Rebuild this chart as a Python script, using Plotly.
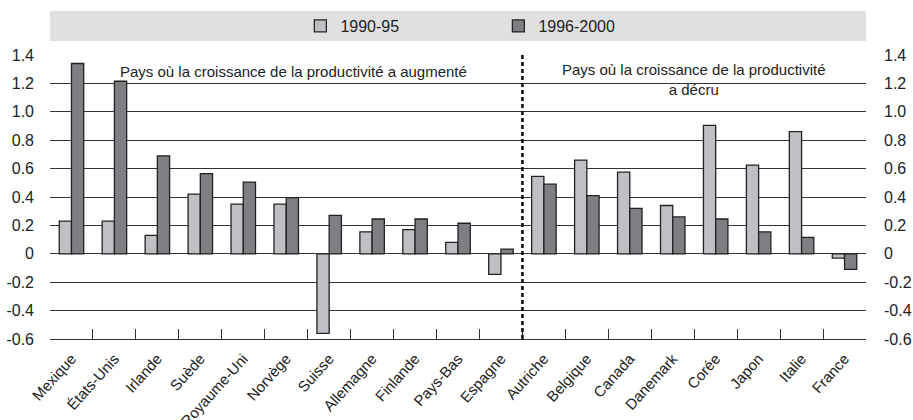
import plotly.graph_objects as go

categories = ["Mexique", "États-Unis", "Irlande", "Suède", "Royaume-Uni", "Norvège", "Suisse",
              "Allemagne", "Finlande", "Pays-Bas", "Espagne", "Autriche", "Belgique", "Canada",
              "Danemark", "Corée", "Japon", "Italie", "France"]
v1990_95 = [0.23, 0.23, 0.13, 0.42, 0.35, 0.35, -0.56, 0.155, 0.17, 0.08, -0.145,
            0.545, 0.66, 0.575, 0.34, 0.905, 0.625, 0.86, -0.03]
v1996_2000 = [1.34, 1.215, 0.69, 0.565, 0.505, 0.395, 0.27, 0.245, 0.245, 0.215, 0.033,
              0.49, 0.41, 0.32, 0.26, 0.245, 0.155, 0.115, -0.11]
tick_vals = [-0.6, -0.4, -0.2, 0, 0.2, 0.4, 0.6, 0.8, 1.0, 1.2, 1.4]
tick_text = ["-0.6", "-0.4", "-0.2", "0", "0.2", "0.4", "0.6", "0.8", "1.0", "1.2", "1.4"]

FONT = "Liberation Sans, Arial, sans-serif"
fig = go.Figure()
fig.add_trace(go.Bar(name="1990-95", x=categories, y=v1990_95,
                     marker=dict(color="#bfc0c4", line=dict(color="#222", width=1.3))))
fig.add_trace(go.Bar(name="1996-2000", x=categories, y=v1996_2000,
                     marker=dict(color="#7e7f83", line=dict(color="#222", width=1.3))))
# invisible trace for right axis
fig.add_trace(go.Scatter(x=categories, y=v1996_2000, yaxis="y2", mode="markers",
                         marker=dict(opacity=0), showlegend=False, hoverinfo="skip"))

sep = categories.index("Autriche") - 0.5
fig.add_shape(type="rect", xref="paper", yref="paper", x0=0, x1=1, y0=1.049, y1=1.155,
              fillcolor="#e0e0e0", line=dict(width=0), layer="below")
fig.add_shape(type="line", xref="x", yref="y", x0=sep, x1=sep, y0=-0.6, y1=1.4,
              line=dict(color="#111", width=2.6, dash="4px,3px"))

fig.add_annotation(x=1.08, y=1.287, xref="x", yref="y", xanchor="left",
                   text="Pays où la croissance de la productivité a augmenté",
                   showarrow=False, font=dict(size=15, color="#222", family=FONT))
fig.add_annotation(x=14.48, y=1.231, xref="x", yref="y", xanchor="center",
                   text="Pays où la croissance de la productivité<br>a décru",
                   showarrow=False, font=dict(size=15, color="#222", family=FONT))

fig.update_layout(
    width=913, height=420,
    margin=dict(l=50, r=47, t=55, b=81, autoexpand=False),
    paper_bgcolor="white", plot_bgcolor="white",
    barmode="group", bargap=0.43, bargroupgap=0,
    font=dict(family=FONT, size=16, color="#222"),
    showlegend=True,
    legend=dict(orientation="h", xref="container", yref="container",
                x=0.329, y=0.938, xanchor="left", yanchor="middle",
                bgcolor="rgba(0,0,0,0)", entrywidth=153, entrywidthmode="pixels",
                font=dict(size=16, family=FONT, color="#222")),
    xaxis=dict(tickangle=-48, tickson="boundaries", ticks="inside", ticklen=10,
               tickcolor="#333", showline=True, linecolor="#333", linewidth=1.3,
               showgrid=False, automargin=False, tickfont=dict(size=15, family=FONT),
               ticklabelstandoff=4, range=[-0.5, 18.5]),
    yaxis=dict(range=[-0.6, 1.4], tickvals=tick_vals, ticktext=tick_text,
               showgrid=True, gridcolor="#333", gridwidth=1, zeroline=False,
               automargin=False, ticks="", ticklabelstandoff=15,
               tickfont=dict(size=16, family=FONT)),
    yaxis2=dict(range=[-0.6, 1.4], tickvals=tick_vals, ticktext=tick_text,
                overlaying="y", side="right", showgrid=False, zeroline=False,
                automargin=False, ticks="", ticklabelstandoff=17,
                tickfont=dict(size=16, family=FONT)),
)
fig.write_html("out.html", config={"displayModeBar": False},
               post_script="document.body.style.margin='0px';")
